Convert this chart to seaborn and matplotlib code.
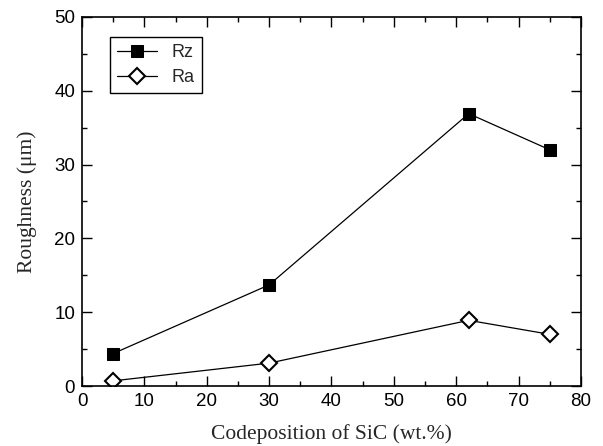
import pandas as pd
import matplotlib.pyplot as plt
import seaborn as sns
from matplotlib.ticker import MultipleLocator

# Dados
sic = [5, 30, 62, 75]
rz = [4.4, 13.7, 36.9, 32.0]
ra = [0.7, 3.1, 8.9, 7.0]

sns.set_style("ticks")
plt.rcParams['font.family'] = ['Liberation Sans', 'DejaVu Sans']

df = pd.DataFrame({
    'SiC': sic * 2,
    'Roughness': rz + ra,
    'Param': ['Rz'] * len(rz) + ['Ra'] * len(ra),
})

fig = plt.figure(figsize=(6.03, 4.46), dpi=100)
ax = fig.add_axes([0.136, 0.1345, 0.8275, 0.8275])

sns.lineplot(data=df[df['Param'] == 'Rz'], x='SiC', y='Roughness', ax=ax,
             color='black', lw=0.9, marker='s', markersize=9,
             markerfacecolor='black', markeredgecolor='black', label='Rz')
sns.lineplot(data=df[df['Param'] == 'Ra'], x='SiC', y='Roughness', ax=ax,
             color='black', lw=0.9, marker='D', markersize=8,
             markerfacecolor='white', markeredgecolor='black',
             markeredgewidth=1.5, label='Ra')

ax.set_xlim(0, 80)
ax.set_ylim(0, 50)
ax.xaxis.set_major_locator(MultipleLocator(10))
ax.xaxis.set_minor_locator(MultipleLocator(5))
ax.yaxis.set_major_locator(MultipleLocator(10))
ax.yaxis.set_minor_locator(MultipleLocator(5))
ax.tick_params(which='both', direction='in', top=True, right=True,
               colors='black', labelsize=13.5)
ax.tick_params(which='major', length=7, width=1, pad=5)
ax.tick_params(which='minor', length=3.5, width=1)
for s in ax.spines.values():
    s.set_color('black')
    s.set_linewidth(1.2)

ax.set_xlabel('Codeposition of SiC (wt.%)', family=['Liberation Serif'],
              fontsize=15.5, labelpad=10)
ax.set_ylabel('Roughness (\u03bcm)', family=['Liberation Serif'],
              fontsize=15.5, labelpad=12)

leg = ax.legend(loc='upper left', bbox_to_anchor=(0.056, 0.946), borderaxespad=0,
                fontsize=13, fancybox=False, framealpha=1, edgecolor='black',
                handlelength=2.2, borderpad=0.4, labelspacing=0.45)
leg.get_frame().set_linewidth(1)

fig.savefig('out.png', dpi=100)
